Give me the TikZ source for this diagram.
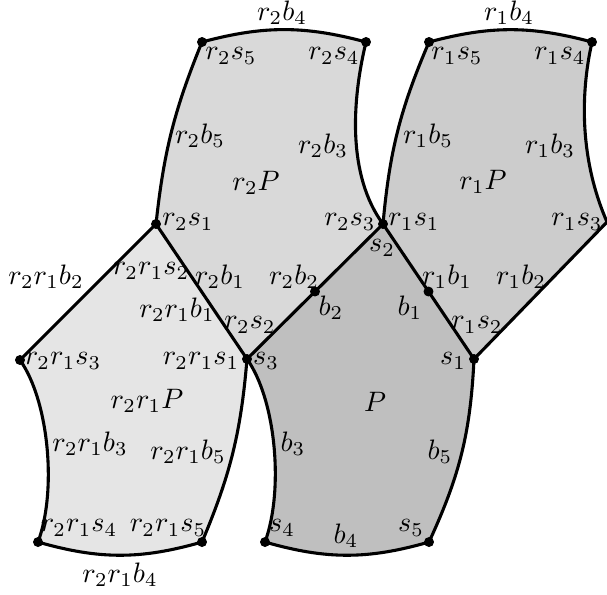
\documentclass[tikz,border=0pt]{standalone}
\usepackage{amsmath, amsfonts, amssymb}
\usetikzlibrary{positioning}
\usetikzlibrary{calc}

\begin{document}
\begin{tikzpicture}[x=0.125mm, y=-0.125mm, dot/.style={circle, draw, fill=black, inner sep=1.1pt}, edge/.style={line width=1.1pt}, tag/.style={inner sep=1pt}]
        % Fix the size of the picture
        \useasboundingbox (0,0) rectangle (607,594);

        % Define the vertices of P
        \coordinate (s1) at (474,359);
        \coordinate (s2) at (383,224);
        \coordinate (s3) at (247,359);
        \coordinate (s4) at (265,542);
        \coordinate (s5) at (429,542);
        \coordinate (b1) at ($(s2)!0.5!(s1)$);
        \coordinate (b2) at ($(s3)!0.5!(s2)$);

        % Define the new vertices of r1P, r2P and r2r1P
        \coordinate (r1s3) at (607,222);
        \coordinate (r1s4) at (592,42);
        \coordinate (r1s5) at (429,42);
        \coordinate (r2s1) at (156,224);
        \coordinate (r2s4) at (366,42);
        \coordinate (r2s5) at (202,42);
        \coordinate (r2r1s3) at (20,360);
        \coordinate (r2r1s4) at (38,542);
        \coordinate (r2r1s5) at (202,542);

        % Fill the four pentagons
        \fill[black!25] (s3) -- (s2) -- (s1) to[bend left=11] (s5) to[bend left=16] (s4) .. controls (284,490) and (276,400) .. (s3) -- cycle;
        \fill[black!20] (s2) to[bend left=9] (r1s5) to[bend left=15] (r1s4) .. controls (580,95) and (580,160) .. (r1s3) -- (s1) -- cycle;
        \fill[black!15] (s2) .. controls (347,175) and (352,100) .. (r2s4) to[bend right=15] (r2s5) to[bend right=8] (r2s1) -- (s3) -- cycle;
        \fill[black!10] (r2s1) -- (r2r1s3) .. controls (49,401) and (57,491) .. (r2r1s4) to[bend right=16] (r2r1s5) to[bend right=9] (s3) -- cycle;

        % Draw the straight sides
        \draw[edge] (r2r1s3) -- (r2s1) -- (s3) -- (s2) -- (s1) -- (r1s3);

        % Draw the curved sides
        \draw[edge] (s1) to[bend left=11] (s5) to[bend left=16] (s4) .. controls (284,490) and (276,400) .. (s3);
        \draw[edge] (s2) to[bend left=9] (r1s5) to[bend left=15] (r1s4) .. controls (580,95) and (580,160) .. (r1s3);
        \draw[edge] (s2) .. controls (347,175) and (352,100) .. (r2s4) to[bend right=15] (r2s5) to[bend right=8] (r2s1);
        \draw[edge] (r2r1s3) .. controls (49,401) and (57,491) .. (r2r1s4) to[bend right=16] (r2r1s5) to[bend right=9] (s3);

        % Draw the vertices
        \foreach \v in {s1,s2,s3,s4,s5,b1,b2,r1s4,r1s5,r2s1,r2s4,r2s5,r2r1s3,r2r1s4,r2r1s5}
        {
          \node[dot] (d\v) at (\v) {};
        }

        % Labels of P
        \node[tag] (tP) at (375,402) {$P$};
        \node[tag] (ts1) at (453,361) {$s_1$};
        \node[tag] (ts2) at (382,248) {$s_2$};
        \node[tag] (ts3) at (266,361) {$s_3$};
        \node[tag] (ts4) at (282,528) {$s_4$};
        \node[tag] (ts5) at (411,528) {$s_5$};
        \node[tag] (tb1) at (410,308) {$b_1$};
        \node[tag] (tb2) at (331,308) {$b_2$};
        \node[tag] (tb3) at (293,444) {$b_3$};
        \node[tag] (tb4) at (346,536) {$b_4$};
        \node[tag] (tb5) at (440,452) {$b_5$};

        % Labels of r1P
        \node[tag] (tr1P) at (483,182) {$r_1P$};
        \node[tag] (tr1s1) at (414,222) {$r_1s_1$};
        \node[tag] (tr1s2) at (477,325) {$r_1s_2$};
        \node[tag] (tr1s3) at (577,222) {$r_1s_3$};
        \node[tag] (tr1s4) at (560,56) {$r_1s_4$};
        \node[tag] (tr1s5) at (457,56) {$r_1s_5$};
        \node[tag] (tr1b1) at (447,277) {$r_1b_1$};
        \node[tag] (tr1b2) at (521,277) {$r_1b_2$};
        \node[tag] (tr1b3) at (550,146) {$r_1b_3$};
        \node[tag] (tr1b4) at (509,13) {$r_1b_4$};
        \node[tag] (tr1b5) at (428,136) {$r_1b_5$};

        % Labels of r2P
        \node[tag] (tr2P) at (256,183) {$r_2P$};
        \node[tag] (tr2s1) at (188,222) {$r_2s_1$};
        \node[tag] (tr2s2) at (250,325) {$r_2s_2$};
        \node[tag] (tr2s3) at (350,222) {$r_2s_3$};
        \node[tag] (tr2s4) at (334,56) {$r_2s_4$};
        \node[tag] (tr2s5) at (231,56) {$r_2s_5$};
        \node[tag] (tr2b1) at (220,277) {$r_2b_1$};
        \node[tag] (tr2b2) at (294,277) {$r_2b_2$};
        \node[tag] (tr2b3) at (323,146) {$r_2b_3$};
        \node[tag] (tr2b4) at (282,13) {$r_2b_4$};
        \node[tag] (tr2b5) at (200,136) {$r_2b_5$};

        % Labels of r2r1P
        \node[tag] (tr2r1P) at (147,401) {$r_2r_1P$};
        \node[tag] (tr2r1s1) at (201,361) {$r_2r_1s_1$};
        \node[tag] (tr2r1s2) at (151,271) {$r_2r_1s_2$};
        \node[tag] (tr2r1s3) at (63,361) {$r_2r_1s_3$};
        \node[tag] (tr2r1s4) at (79,528) {$r_2r_1s_4$};
        \node[tag] (tr2r1s5) at (168,528) {$r_2r_1s_5$};
        \node[tag] (tr2r1b1) at (177,310) {$r_2r_1b_1$};
        \node[tag] (tr2r1b2) at (46,277) {$r_2r_1b_2$};
        \node[tag] (tr2r1b3) at (90,444) {$r_2r_1b_3$};
        \node[tag] (tr2r1b4) at (120,575) {$r_2r_1b_4$};
        \node[tag] (tr2r1b5) at (188,452) {$r_2r_1b_5$};
      \end{tikzpicture}
\end{document}
